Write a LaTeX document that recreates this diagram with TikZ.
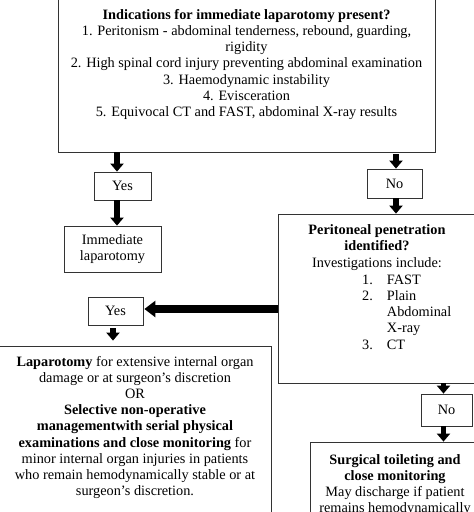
\documentclass[tikz,border=0pt]{standalone}
\usepackage{fontspec}
\setmainfont{Liberation Serif}
\usetikzlibrary{arrows.meta}

\begin{document}
\begin{tikzpicture}[x=1pt,y=-1pt,
    box/.style={draw=black!80,line width=0.8pt,inner sep=0pt,font=\fontsize{14.3}{16.2}\selectfont,align=center},
    txt/.style={inner sep=0pt,font=\fontsize{14.3}{16.2}\selectfont,align=center},
    arr/.style={line width=5.5pt,-{Triangle[length=8pt,width=13pt]}},
    bigarr/.style={line width=8pt,-{Triangle[length=11pt,width=16pt]}}]

  \useasboundingbox (0,0) rectangle (474,512);
  \clip (0,0) rectangle (474,512);

  \node[box,minimum width=377pt,minimum height=160pt] (top) at (246.5,72) {};
  \node[box,minimum width=57pt,minimum height=28pt] (yes1) at (122.5,186) {Yes};
  \node[box,minimum width=55pt,minimum height=29pt] (no1) at (394.5,183.5) {No};
  \node[box,minimum width=97pt,minimum height=46pt] (imm) at (112.5,249) {Immediate\\laparotomy};
  \node[box,minimum width=202pt,minimum height=169pt] (pen) at (379,298.5) {};
  \node[box,minimum width=55pt,minimum height=28pt] (yes2) at (115.5,311) {Yes};
  \node[box,minimum width=273pt,minimum height=184pt] (lap) at (134.5,438) {};
  \node[box,minimum width=51pt,minimum height=32pt] (no2) at (446.5,410) {No};
  \node[box,minimum width=170pt,minimum height=88pt] (surg) at (395,486) {};

  \node[txt] (toptxt) at (246.5,64.5) {\textbf{Indications for immediate laparotomy present?}\\
    1. Peritonism - abdominal tenderness, rebound, guarding,\\
    rigidity\\
    2. High spinal cord injury preventing abdominal examination\\
    3. Haemodynamic instability\\
    4. Evisceration\\
    5. Equivocal CT and FAST, abdominal X-ray results};
  \node[txt] (pentxt) at (377,247.5) {\textbf{Peritoneal penetration}\\
    \textbf{identified?}\\
    Investigations include:};
  \node[txt,anchor=west] (penlist) at (362,313.5) {\begin{tabular}{@{}r@{\hspace{14pt}}l@{}}
    1. & FAST\\
    2. & Plain\\
       & Abdominal\\
       & X-ray\\
    3. & CT
  \end{tabular}};
  \node[txt] (laptxt) at (135,427.5) {\textbf{Laparotomy} for extensive internal organ\\
    damage or at surgeon’s discretion\\
    OR\\
    \textbf{Selective non-operative}\\
    \textbf{managementwith serial physical}\\
    \textbf{examinations and close monitoring} for\\
    minor internal organ injuries in patients\\
    who remain hemodynamically stable or at\\
    surgeon’s discretion.};
  \node[txt] (surgtxt) at (395,485) {\textbf{Surgical toileting and}\\
    \textbf{close monitoring}\\
    May discharge if patient\\
    remains hemodynamically};

  \draw[arr] ([xshift=-5.5pt]yes1.north |- top.south) -- ([xshift=-5.5pt]yes1.north);
  \draw[arr] ([xshift=-5.5pt]yes1.south) -- ([xshift=-5.5pt]yes1.south |- imm.north);
  \draw[arr,shorten <=2pt] ([xshift=1.5pt]no1.north |- top.south) -- ([xshift=1.5pt]no1.north);
  \draw[arr] ([xshift=1.5pt]no1.south) -- ([xshift=1.5pt]no1.south |- pen.north);
  \draw[bigarr] ([yshift=2pt]pen.west |- yes2.east) -- ([yshift=2pt,xshift=1pt]yes2.east);
  \draw[arr,shorten <=3pt,shorten >=5pt] ([xshift=-2.5pt]yes2.south) -- ([xshift=-2.5pt]yes2.south |- lap.north);
  \draw[arr] ([xshift=-3pt]no2.north |- pen.south) -- ([xshift=-3pt]no2.north);
  \draw[arr] ([xshift=-3pt]no2.south) -- ([xshift=-3pt]no2.south |- surg.north);

\end{tikzpicture}
\end{document}
